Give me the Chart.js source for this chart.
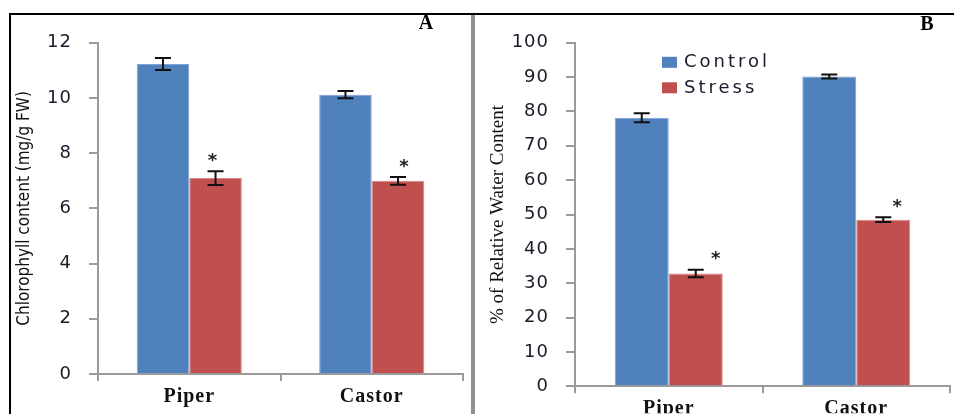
<!DOCTYPE html>
<html>
<head>
<meta charset="utf-8">
<script src="https://cdn.jsdelivr.net/npm/chart.js@4.4.0/dist/chart.umd.min.js"></script>
<style>
  body { margin: 0; background: #fff; width: 954px; height: 414px; overflow: hidden; position: relative; }
  #frame { position: absolute; left: 9px; top: 13px; width: 945px; height: 401px; border-top: 2px solid #000; border-left: 2px solid #000; box-sizing: border-box; }
  #sep { position: absolute; left: 471px; top: 15px; width: 4px; height: 399px; background: #909090; }
  .panel { position: absolute; top: 15px; }
  #panelA { left: 11px; width: 460px; height: 399px; }
  #panelB { left: 475px; width: 479px; height: 399px; }
</style>
</head>
<body>
<div id="frame"></div>
<div id="sep"></div>
<div class="panel" id="panelA"><canvas id="chartA" width="460" height="399"></canvas></div>
<div class="panel" id="panelB"><canvas id="chartB" width="479" height="399"></canvas></div>
<script>
// Data
const plants = ['Piper', 'Castor'];
const seriesNames = ['Control', 'Stress'];

const chlControl = [11.23, 10.12];
const chlControlErr = [0.22, 0.13];
const chlStress = [7.1, 7.0];
const chlStressErr = [0.25, 0.14];

const rwcControl = [78.2, 90.2];
const rwcControlErr = [1.3, 0.6];
const rwcStress = [32.8, 48.5];
const rwcStressErr = [1.1, 0.7];

const blue = '#4F81BD';
const red = '#C0504D';
const axisGray = '#9a9a9a';

// error bars, significance stars, panel letter, axis title and legend
const decorPlugin = {
    id: 'decor',
    beforeDraw(chart) {
        // the original figure is stretched sideways a little
        chart.ctx.letterSpacing = '1px';
    },
    afterDatasetsDraw(chart, args, opts) {
        const ctx = chart.ctx;
        const y = chart.scales.y;
        const area = chart.chartArea;
        ctx.save();
        ctx.letterSpacing = '0px';
        ctx.strokeStyle = '#111';
        ctx.lineWidth = 2;
        chart.data.datasets.forEach((ds, di) => {
            const meta = chart.getDatasetMeta(di);
            meta.data.forEach((bar, i) => {
                const top = y.getPixelForValue(ds.data[i] + ds.err[i]);
                const bot = y.getPixelForValue(ds.data[i] - ds.err[i]);
                ctx.beginPath();
                ctx.moveTo(bar.x, top); ctx.lineTo(bar.x, bot);
                ctx.moveTo(bar.x - 8, top); ctx.lineTo(bar.x + 8, top);
                ctx.moveTo(bar.x - 8, bot); ctx.lineTo(bar.x + 8, bot);
                ctx.stroke();
                if (ds.star) {
                    ctx.fillStyle = '#222';
                    ctx.font = 'bold 18px "DejaVu Sans"';
                    ctx.textAlign = 'center';
                    ctx.textBaseline = 'middle';
                    ctx.fillText('*', bar.x + opts.starDx[i], top - 10);
                }
            });
        });
        // panel letter
        ctx.fillStyle = '#000';
        ctx.font = 'bold 20px "Liberation Serif"';
        ctx.textAlign = 'center';
        ctx.textBaseline = 'middle';
        ctx.fillText(opts.letter, area.right + opts.letterDx, opts.letterY);
        // y axis title
        ctx.save();
        ctx.translate(opts.titleX, (area.top + area.bottom) / 2);
        ctx.rotate(-Math.PI / 2);
        ctx.font = opts.titleFont;
        ctx.fillStyle = '#111';
        ctx.fillText(opts.title, 0, 0);
        ctx.restore();
        // legend
        if (opts.legend) {
            const lx = area.left + 87;
            const ly = area.top + 14;
            ctx.font = '18px "DejaVu Sans"';
            ctx.textAlign = 'left';
            ctx.letterSpacing = '3px';
            chart.data.datasets.forEach((ds, di) => {
                ctx.fillStyle = ds.backgroundColor;
                ctx.fillRect(lx, ly + di * 25.5, 15, 11);
                ctx.fillStyle = '#1a1a2a';
                ctx.fillText(ds.label, lx + 22, ly + 6 + di * 25.5);
            });
            ctx.letterSpacing = '0px';
        }
        ctx.restore();
    }
};

function makeChart(id, control, controlErr, stress, stressErr, cfg) {
    return new Chart(document.getElementById(id), {
        type: 'bar',
        data: {
            labels: plants,
            datasets: [
                { label: seriesNames[0], data: control, err: controlErr, backgroundColor: blue,
                  borderColor: '#7da2d2', borderWidth: 1, categoryPercentage: 0.576, barPercentage: 1 },
                { label: seriesNames[1], data: stress, err: stressErr, star: true, backgroundColor: red,
                  borderColor: '#d98683', borderWidth: 1, categoryPercentage: 0.576, barPercentage: 1 }
            ]
        },
        options: {
            responsive: false,
            animation: false,
            layout: { padding: cfg.padding },
            plugins: {
                legend: { display: false },
                tooltip: { enabled: false },
                decor: cfg.decor
            },
            scales: {
                x: {
                    afterFit: s => { s.height = cfg.xHeight; },
                    grid: { drawOnChartArea: false, drawTicks: true, tickLength: 7, color: axisGray, lineWidth: 2 },
                    border: { color: axisGray, width: 2 },
                    ticks: { color: '#111', padding: 4, font: { family: 'Liberation Serif', size: 20, weight: 'bold' } }
                },
                y: {
                    min: 0,
                    max: cfg.yMax,
                    afterFit: s => { s.width = cfg.yWidth; },
                    grid: { drawOnChartArea: false, drawTicks: true, tickLength: 9, color: axisGray, lineWidth: 2 },
                    border: { color: axisGray, width: 2 },
                    ticks: { stepSize: cfg.yStep, color: '#1a1a2a', padding: 17, font: { family: 'DejaVu Sans', size: 18 } }
                }
            }
        },
        plugins: [decorPlugin]
    });
}

makeChart('chartA', chlControl, chlControlErr, chlStress, chlStressErr, {
    padding: { top: 25, right: 8, left: 0, bottom: 0 },
    xHeight: 40, yWidth: 87, yMax: 12, yStep: 2,
    decor: { starDx: [-3, 6], letter: 'A', letterDx: -37, letterY: 9,
             title: 'Chlorophyll content (mg/g FW)', titleFont: '17px "DejaVu Sans Condensed"', titleX: 14 }
});

makeChart('chartB', rwcControl, rwcControlErr, rwcStress, rwcStressErr, {
    padding: { top: 17, right: 4, left: 0, bottom: 0 },
    xHeight: 27, yWidth: 100, yMax: 100, yStep: 10,
    decor: { starDx: [20, 14], letter: 'B', letterDx: -23, letterY: 10, legend: true,
             title: '% of Relative Water Content', titleFont: '19px "Liberation Serif"', titleX: 23 }
});
</script>
</body>
</html>
